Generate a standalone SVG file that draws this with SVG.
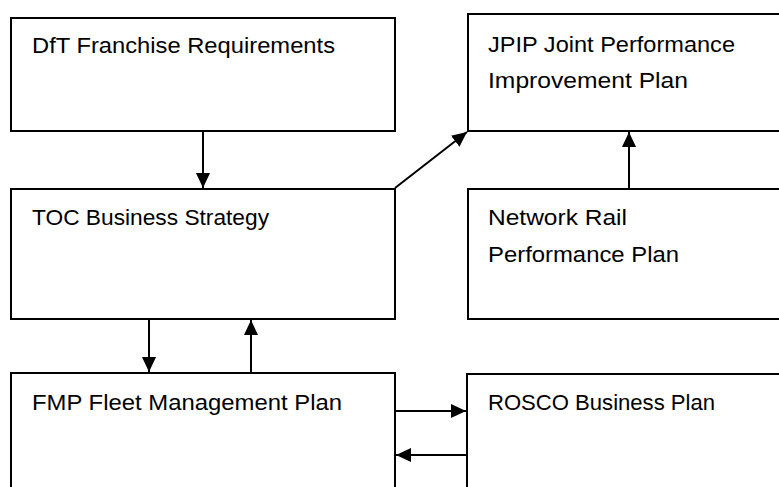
<svg xmlns="http://www.w3.org/2000/svg" width="779" height="487" viewBox="0 0 779 487">
<style>
.box{fill:#fff;stroke:#000;stroke-width:2}
.lbl{font-family:"Liberation Sans",Arial,sans-serif;font-size:22px;fill:#000}
.con{stroke:#000;stroke-width:2;fill:none;marker-end:url(#ah)}
</style>
<defs>
<marker id="ah" viewBox="0 0 15 14" refX="15" refY="7" markerWidth="15" markerHeight="14" markerUnits="userSpaceOnUse" orient="auto">
<path d="M0,0 L15,7 L0,14 Z" fill="#000"/>
</marker>
</defs>
<rect width="779" height="487" fill="#fff"/>
<g id="dft">
<rect class="box" x="11" y="18" width="384" height="113"/>
<text class="lbl" x="32" y="53" textLength="303" lengthAdjust="spacingAndGlyphs">DfT Franchise Requirements</text>
</g>
<g id="jpip">
<rect class="box" x="468" y="14" width="330" height="117"/>
<text class="lbl" x="488" y="52" textLength="247" lengthAdjust="spacingAndGlyphs">JPIP Joint Performance</text>
<text class="lbl" x="488" y="88" textLength="200" lengthAdjust="spacingAndGlyphs">Improvement Plan</text>
</g>
<g id="toc">
<rect class="box" x="11" y="189" width="384" height="130"/>
<text class="lbl" x="32" y="225" textLength="237" lengthAdjust="spacingAndGlyphs">TOC Business Strategy</text>
</g>
<g id="networkrail">
<rect class="box" x="468" y="189" width="330" height="130"/>
<text class="lbl" x="488" y="225" textLength="139" lengthAdjust="spacingAndGlyphs">Network Rail</text>
<text class="lbl" x="488" y="262" textLength="191" lengthAdjust="spacingAndGlyphs">Performance Plan</text>
</g>
<g id="fmp">
<rect class="box" x="11" y="373" width="384" height="130"/>
<text class="lbl" x="32" y="410" textLength="310" lengthAdjust="spacingAndGlyphs">FMP Fleet Management Plan</text>
</g>
<g id="rosco">
<rect class="box" x="467" y="374" width="330" height="130"/>
<text class="lbl" x="488" y="410" textLength="227" lengthAdjust="spacingAndGlyphs">ROSCO Business Plan</text>
</g>
<g id="connectors">
<line class="con" x1="203" y1="131" x2="203" y2="188"/>
<line class="con" x1="395" y1="188" x2="467" y2="132"/>
<line class="con" x1="629" y1="189" x2="629" y2="132"/>
<line class="con" x1="149" y1="319" x2="149" y2="372"/>
<line class="con" x1="251" y1="373" x2="251" y2="320"/>
<line class="con" x1="395" y1="411" x2="466" y2="411"/>
<line class="con" x1="467" y1="455" x2="396" y2="455"/>
</g>
</svg>
